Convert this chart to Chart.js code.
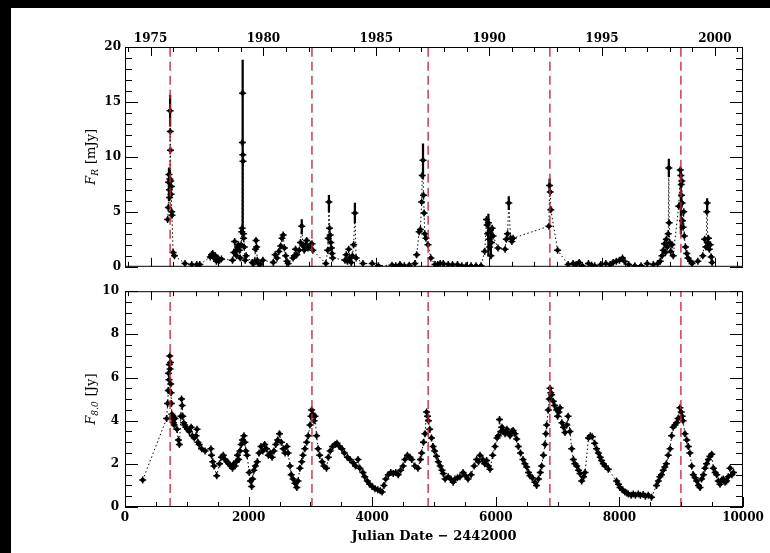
<!DOCTYPE html>
<html>
<head>
<meta charset="utf-8">
<script src="https://cdn.jsdelivr.net/npm/chart.js@4.4.1/dist/chart.umd.min.js"></script>
<style>
  html, body { margin: 0; padding: 0; background: #000; width: 770px; height: 553px; overflow: hidden; }
  #sheet { position: absolute; left: 11px; top: 8px; width: 759px; height: 545px; background: #fff; }
  canvas { position: absolute; left: 11px; }
  #top-panel { top: 8px; }
  #bottom-panel { top: 278px; }
</style>
</head>
<body>
<div id="sheet"></div>
<canvas id="top-panel" width="759" height="270"></canvas>
<canvas id="bottom-panel" width="759" height="275"></canvas>
<script>
// Dates of the outbursts (JD - 2442000), marked with red dashed lines
const outburstJD = [730, 3025, 4905, 6875, 8995];

// Optical R-band flux [mJy], pairs of [JD - 2442000, flux]
const opticalFlux = [
  [690, 4.3], [701, 5.4], [705, 7.7], [712, 8.4], [718, 7.0], [722, 6.3], [726, 8.0], [730, 14.2], [733, 12.3],
  [736, 10.6], [740, 7.8], [745, 6.6], [750, 7.3], [755, 5.0], [760, 4.7], [778, 1.3], [800, 1.0],
  [970, 0.3], [1080, 0.2], [1160, 0.2], [1210, 0.2],
  [1380, 0.9], [1400, 1.1], [1420, 1.2], [1440, 0.8], [1460, 1.0], [1480, 0.5], [1500, 0.8], [1530, 0.6], [1560, 0.7],
  [1740, 0.6], [1760, 1.3], [1775, 2.3], [1790, 1.4], [1805, 1.0], [1820, 1.8], [1835, 2.0], [1850, 1.5], [1865, 0.8],
  [1880, 2.0], [1890, 3.2], [1896, 3.5], [1900, 11.3], [1904, 15.8], [1907, 10.2], [1910, 9.6], [1915, 3.0],
  [1920, 2.6], [1930, 1.8], [1945, 0.6], [1960, 1.0],
  [2060, 0.4], [2080, 0.3], [2100, 0.5], [2110, 1.6], [2120, 2.4], [2130, 1.8], [2140, 0.6], [2160, 0.3], [2190, 0.2], [2230, 0.6],
  [2400, 0.4], [2430, 1.1], [2460, 0.8], [2490, 1.4], [2520, 1.9], [2540, 2.6], [2560, 2.9], [2580, 1.7], [2600, 1.0],
  [2620, 0.5], [2640, 0.3],
  [2720, 0.8], [2740, 1.0], [2760, 1.6], [2780, 1.1], [2820, 1.5], [2840, 2.2], [2860, 3.7], [2880, 1.9], [2900, 1.5],
  [2920, 2.0], [2940, 2.4], [2960, 1.7], [2980, 1.8], [3000, 2.0], [3025, 2.1], [3040, 1.5],
  [3250, 0.3], [3280, 1.5], [3290, 2.6], [3300, 5.9], [3310, 3.5], [3320, 2.9], [3330, 2.2], [3340, 1.7], [3350, 1.2], [3360, 0.8],
  [3560, 0.6], [3580, 1.1], [3600, 0.5], [3620, 1.6], [3640, 0.8], [3660, 0.4], [3680, 1.0], [3700, 2.0], [3720, 4.9], [3740, 0.8],
  [3850, 0.3], [4000, 0.3], [4100, 0.1], [4320, 0.15], [4380, 0.1], [4450, 0.2], [4520, 0.1], [4600, 0.15], [4690, 0.3],
  [4720, 1.1], [4760, 3.2], [4780, 3.4], [4800, 5.9], [4810, 8.3], [4822, 9.7], [4830, 6.5], [4840, 4.9], [4850, 3.0],
  [4870, 2.6], [4903, 2.0], [4950, 0.8], [5016, 0.2],
  [5060, 0.2], [5100, 0.3], [5150, 0.3], [5230, 0.2], [5300, 0.2], [5380, 0.2], [5450, 0.1], [5520, 0.1], [5600, 0.1],
  [5680, 0.1], [5760, 0.1],
  [5820, 1.4], [5850, 4.3], [5860, 3.8], [5870, 3.0], [5880, 4.0], [5890, 2.5], [5900, 1.8], [5910, 3.3], [5920, 1.0],
  [5930, 2.2], [5940, 3.5], [5955, 2.8],
  [6035, 1.7], [6150, 1.6], [6170, 2.5], [6190, 3.0], [6210, 5.8], [6240, 2.6], [6260, 2.3], [6280, 2.6],
  [6860, 3.7], [6870, 7.4], [6880, 6.8], [6890, 5.2], [7000, 1.5], [7170, 0.2],
  [7250, 0.3], [7300, 0.2], [7350, 0.4], [7400, 0.1], [7500, 0.3], [7550, 0.15], [7600, 0.1], [7700, 0.2], [7780, 0.3],
  [7850, 0.2], [7900, 0.4], [7950, 0.5], [8000, 0.6], [8050, 0.8], [8080, 0.5], [8150, 0.2], [8250, 0.1], [8350, 0.1],
  [8450, 0.3], [8550, 0.2], [8620, 0.3],
  [8660, 0.5], [8690, 1.0], [8710, 1.5], [8730, 2.1], [8745, 1.3], [8760, 2.5], [8775, 1.8], [8790, 3.0], [8800, 9.0],
  [8805, 4.0], [8815, 2.2], [8830, 1.4], [8850, 2.0], [8870, 1.0],
  [8960, 5.5], [8985, 8.8], [8995, 8.3], [9000, 7.5], [9005, 6.5], [9010, 7.8], [9015, 5.8], [9020, 4.2], [9030, 3.6],
  [9040, 5.0], [9050, 2.8], [9070, 1.8], [9090, 1.2], [9110, 0.8], [9150, 0.5], [9175, 0.3], [9270, 0.5],
  [9350, 1.0], [9380, 2.5], [9400, 1.8], [9415, 5.0], [9420, 5.8], [9430, 2.2], [9440, 2.6], [9455, 1.6], [9470, 2.0],
  [9485, 0.9], [9500, 0.4]
];

// Large optical error bars: date, lower and upper end [mJy]
const opticalErrJD = [712, 726, 730, 1904, 2860, 3300, 3720, 4822, 5880, 5920, 6210, 6870, 8800, 8995, 9420];
const opticalErrLo = [6.0, 6.3, 12.8, 3.0, 3.0, 5.0, 4.0, 8.0, 1.0, 0.8, 5.2, 6.8, 8.2, 3.0, 5.0];
const opticalErrHi = [9.0, 8.8, 15.6, 18.8, 4.3, 6.5, 5.8, 11.2, 4.8, 3.5, 6.4, 8.0, 9.8, 9.0, 6.2];

// Radio 8.0 GHz flux [Jy], pairs of [JD - 2442000, flux]
const radioFlux = [
  [286, 1.25],
  [674, 4.1], [690, 4.8], [700, 5.4], [705, 6.2], [712, 5.9], [718, 6.6], [725, 7.0], [730, 6.4], [735, 6.7], [740, 5.7],
  [745, 5.3], [750, 4.8], [758, 4.3], [765, 4.1], [775, 4.2], [785, 3.9], [795, 3.8], [810, 4.1], [840, 3.6], [865, 3.1],
  [880, 2.9], [905, 4.2], [915, 5.0], [925, 4.7], [935, 4.2], [950, 3.9], [965, 3.8], [985, 3.7], [1010, 3.6], [1040, 3.5],
  [1070, 3.7], [1090, 3.3], [1120, 3.2], [1150, 3.3], [1165, 3.6], [1180, 3.0], [1200, 2.9], [1240, 2.7], [1295, 2.6],
  [1390, 2.7], [1400, 2.4], [1420, 2.1], [1440, 1.9], [1484, 1.45], [1530, 2.0], [1560, 2.3], [1590, 2.4], [1620, 2.2],
  [1650, 2.1], [1680, 2.0], [1710, 1.9], [1740, 1.8], [1760, 2.0], [1780, 1.9], [1800, 2.1], [1820, 2.4], [1840, 2.2],
  [1860, 2.6], [1880, 2.9], [1900, 3.1], [1925, 3.3], [1940, 3.0], [1955, 2.6], [1975, 2.4], [2010, 1.6], [2030, 1.2],
  [2050, 0.95], [2065, 1.3], [2085, 1.7], [2110, 1.9], [2140, 2.1], [2170, 2.5], [2200, 2.8], [2230, 2.6], [2260, 2.9],
  [2290, 2.7], [2320, 2.4], [2350, 2.5], [2380, 2.3], [2410, 2.6], [2440, 2.9], [2470, 3.1], [2500, 3.4], [2530, 3.0],
  [2560, 2.7], [2590, 2.5], [2620, 2.8], [2640, 2.5], [2670, 1.9], [2690, 1.5], [2720, 1.3], [2750, 1.1], [2780, 0.9],
  [2800, 1.2], [2830, 1.8], [2860, 2.1], [2880, 2.4], [2910, 2.7], [2940, 3.0], [2965, 3.3], [2994, 3.8], [3010, 4.2],
  [3020, 4.5], [3040, 4.3], [3060, 4.0], [3075, 4.2], [3100, 3.3], [3125, 2.7], [3150, 2.4], [3190, 2.1], [3220, 1.9],
  [3260, 1.8], [3290, 2.3], [3320, 2.6], [3360, 2.8], [3400, 2.9], [3430, 2.95], [3470, 2.8], [3510, 2.7], [3550, 2.5],
  [3600, 2.3], [3640, 2.2], [3690, 2.05], [3730, 1.9], [3770, 2.2], [3800, 1.8], [3850, 1.6], [3880, 1.4], [3920, 1.2],
  [3960, 1.05], [4000, 0.95], [4045, 0.85], [4090, 0.8], [4130, 0.75], [4160, 0.7], [4190, 1.0], [4220, 1.3], [4260, 1.5],
  [4300, 1.6], [4340, 1.55], [4380, 1.6], [4420, 1.5], [4460, 1.7], [4500, 1.9], [4530, 2.2], [4570, 2.4], [4610, 2.3],
  [4640, 2.2], [4690, 1.9], [4740, 1.8], [4780, 2.2], [4800, 2.5], [4830, 3.0], [4855, 3.4], [4880, 4.4], [4895, 4.2],
  [4910, 4.0], [4930, 3.6],
  [4960, 3.2], [4985, 2.8], [5010, 2.6], [5040, 2.35], [5070, 2.1], [5100, 1.9], [5130, 1.7], [5150, 1.55], [5180, 1.3],
  [5230, 1.4], [5270, 1.3], [5310, 1.15], [5340, 1.3], [5380, 1.35], [5420, 1.4], [5470, 1.6], [5510, 1.45], [5550, 1.3],
  [5600, 1.5], [5650, 1.9], [5690, 2.2], [5720, 2.1], [5745, 2.4], [5790, 2.2], [5820, 2.0], [5852, 2.15], [5880, 1.9],
  [5906, 1.75], [5950, 2.4], [5987, 2.8], [6020, 3.2], [6040, 3.3], [6060, 4.05], [6080, 3.5], [6100, 3.7], [6122, 3.5],
  [6150, 3.4], [6180, 3.6], [6200, 3.45], [6230, 3.3], [6260, 3.5], [6280, 3.55], [6310, 3.4], [6338, 3.15], [6365, 2.8],
  [6400, 2.5], [6440, 2.2], [6470, 2.0], [6500, 1.85], [6530, 1.6], [6553, 1.45], [6590, 1.35], [6634, 1.15], [6660, 1.0],
  [6690, 1.3], [6720, 1.6], [6742, 1.9], [6770, 2.4], [6796, 2.9], [6810, 3.4], [6823, 3.8], [6850, 4.5], [6865, 5.0],
  [6877, 5.5], [6890, 5.3], [6904, 5.2], [6930, 4.9], [6950, 4.7], [6985, 4.5], [7000, 4.2], [7020, 4.4], [7040, 4.6],
  [7070, 3.9], [7095, 3.7], [7120, 3.45], [7150, 3.8], [7170, 4.2], [7200, 3.5], [7228, 2.7], [7255, 2.2], [7280, 2.0],
  [7310, 1.9], [7340, 1.7], [7363, 1.55], [7390, 1.2], [7420, 1.4], [7444, 1.6],
  [7500, 3.2], [7530, 3.3], [7560, 3.25], [7600, 2.95], [7630, 2.7], [7660, 2.5], [7690, 2.3], [7710, 2.15], [7740, 2.0],
  [7770, 1.9], [7820, 1.75],
  [7955, 1.2], [7985, 1.05], [8010, 0.9], [8050, 0.8], [8090, 0.7], [8120, 0.65], [8145, 0.6], [8190, 0.55], [8225, 0.6],
  [8260, 0.55], [8305, 0.6], [8340, 0.55], [8385, 0.58], [8420, 0.5], [8467, 0.55], [8520, 0.45],
  [8600, 1.0], [8630, 1.2], [8655, 1.4], [8680, 1.5], [8710, 1.7], [8735, 1.85], [8760, 2.0], [8790, 2.4], [8820, 2.7],
  [8845, 3.3], [8870, 3.7], [8900, 3.8], [8925, 3.9], [8950, 4.1], [8980, 4.6], [9000, 4.4], [9015, 4.2], [9030, 4.0],
  [9060, 3.4], [9090, 3.1], [9115, 2.8], [9140, 2.5], [9170, 1.9], [9196, 1.5], [9225, 1.35], [9250, 1.2], [9280, 1.0],
  [9305, 0.9], [9330, 1.3], [9360, 1.5], [9385, 1.8], [9410, 2.0], [9440, 2.2], [9465, 2.35], [9493, 2.45], [9520, 1.8],
  [9550, 1.6], [9575, 1.5], [9600, 1.2], [9628, 1.05], [9655, 1.25], [9680, 1.3], [9710, 1.15], [9735, 1.2], [9760, 1.4],
  [9790, 1.8], [9820, 1.5], [9845, 1.6]
];

// Axis ranges: JD offset on the bottom, calendar years on top
const jdMin = 0;
const jdMax = 10000;
const jdOf1975 = 413.5;
const daysPerYear = 365.25;
const yearMin = 1975 + (jdMin - jdOf1975) / daysPerYear;
const yearMax = 1975 + (jdMax - jdOf1975) / daysPerYear;

const FONT = '"DejaVu Serif", "Liberation Serif", serif';
const RED = "rgba(196, 40, 52, 0.9)";

const isMultiple = (v, step) => Math.abs(v / step - Math.round(v / step)) < 1e-6;

// Values from min to max of a scale, every `step`
const stepsOf = (scale, step) => {
  const out = [];
  for (let k = Math.ceil(scale.min / step - 1e-9); k * step <= scale.max + 1e-9; k++) out.push(k * step);
  return out;
};

// Inward tick marks on all four sides plus the frame
const ticksPlugin = (cfg) => ({
  id: "inwardTicks",
  afterDraw(chart) {
    const ctx = chart.ctx;
    const a = chart.chartArea;
    const sy = chart.scales.y;
    const sx = chart.scales.x;
    const sYear = chart.scales.xYear;
    const segs = [];

    stepsOf(sy, cfg.yMinor).forEach((v) => {
      const py = Math.round(sy.getPixelForValue(v)) + 0.5;
      const len = isMultiple(v, cfg.yMajor) ? 13 : 7;
      segs.push([a.left, py, a.left + len, py], [a.right, py, a.right - len, py]);
    });

    stepsOf(sYear, 1).forEach((v) => {
      const px = Math.round(sYear.getPixelForValue(v)) + 0.5;
      const len = isMultiple(v, 5) ? 9 : 5;
      segs.push([px, a.top, px, a.top + len]);
      if (!cfg.showJDLabels) segs.push([px, a.bottom, px, a.bottom - len]);
    });

    if (cfg.showJDLabels) {
      stepsOf(sx, 500).forEach((v) => {
        const px = Math.round(sx.getPixelForValue(v)) + 0.5;
        const len = isMultiple(v, 2000) ? 10 : 5;
        segs.push([px, a.bottom, px, a.bottom - len]);
      });
    }

    ctx.save();
    ctx.strokeStyle = "#000";
    ctx.lineWidth = 1;
    segs.forEach(([x1, y1, x2, y2]) => { ctx.beginPath(); ctx.moveTo(x1, y1); ctx.lineTo(x2, y2); ctx.stroke(); });
    ctx.strokeRect(a.left + 0.5, a.top + 0.5, a.right - a.left - 1, a.bottom - a.top - 1);
    ctx.restore();
  },
});

// Rotated y title with italic F and a subscript
const yTitlePlugin = (cfg) => ({
  id: "yTitle",
  afterDraw(chart) {
    const ctx = chart.ctx;
    const a = chart.chartArea;
    const fMain = "italic 13px " + FONT;
    const fSub = "italic 9px " + FONT;
    const fUnit = "13px " + FONT;
    ctx.save();
    ctx.translate(79, (a.top + a.bottom) / 2);
    ctx.rotate(-Math.PI / 2);
    ctx.fillStyle = "#000";
    ctx.textBaseline = "alphabetic";
    ctx.textAlign = "left";
    ctx.font = fMain; const w1 = ctx.measureText(cfg.titleMain).width;
    ctx.font = fSub; const w2 = ctx.measureText(cfg.titleSub).width;
    ctx.font = fUnit; const w3 = ctx.measureText(cfg.titleUnit).width;
    let x0 = -(w1 + w2 + w3 + 1) / 2;
    ctx.font = fMain; ctx.fillText(cfg.titleMain, x0, 5); x0 += w1;
    ctx.font = fSub; ctx.fillText(cfg.titleSub, x0, 8); x0 += w2 + 1;
    ctx.font = fUnit; ctx.fillText(cfg.titleUnit, x0, 5);
    ctx.restore();
  },
});

const makePanel = (canvasId, cfg) => {
  const points = cfg.points.map(([x, y]) => ({ x, y }));

  const redLines = [];
  outburstJD.forEach((jd) => {
    redLines.push({ x: jd, y: 0 }, { x: jd, y: cfg.yMax }, { x: jd, y: null });
  });

  const datasets = [
    { type: "line", data: redLines, borderColor: RED, borderWidth: 1.5, borderDash: [9, 5], pointRadius: 0, spanGaps: false, order: 0 },
    { type: "line", data: points, showLine: false, pointStyle: "cross", pointRadius: 3.5, pointBorderWidth: 1.5, pointBorderColor: "#000", order: 1 },
    { type: "line", data: points, borderColor: "#000", borderWidth: 1, borderDash: [1.5, 2.5], pointRadius: 2.3, pointBorderWidth: 0, pointBackgroundColor: "#000", order: 2 },
  ];

  if (cfg.errJD) {
    datasets.push({
      type: "bar",
      data: cfg.errJD.map((jd, i) => ({ x: jd, y: [cfg.errLo[i], cfg.errHi[i]] })),
      backgroundColor: "#000",
      barThickness: 1.6,
      order: 3,
    });
  }

  const tickFont = { family: FONT, size: 12, weight: "bold" };

  return new Chart(document.getElementById(canvasId), {
    type: "line",
    data: { datasets },
    options: {
      responsive: false,
      devicePixelRatio: 1,
      animation: false,
      events: [],
      layout: { autoPadding: false, padding: { left: 0, right: 27, top: 0, bottom: 0 } },
      plugins: { legend: { display: false }, tooltip: { enabled: false } },
      scales: {
        x: {
          type: "linear",
          position: "bottom",
          min: jdMin,
          max: jdMax,
          offset: false,
          grid: { display: false, drawTicks: false, offset: false },
          border: { display: false },
          ticks: {
            display: cfg.showJDLabels,
            stepSize: 500,
            autoSkip: false,
            maxRotation: 0,
            padding: 4,
            color: "#000",
            font: tickFont,
            callback: (v) => (isMultiple(v, 2000) ? String(v) : ""),
          },
          title: {
            display: cfg.showJDLabels,
            text: "Julian Date \u2212 2442000",
            color: "#000",
            font: { family: FONT, size: 13, weight: "bold" },
            padding: { top: 0, bottom: 9 },
          },
          afterFit: (s) => { s.height = cfg.bottomH; },
        },
        xYear: {
          type: "linear",
          position: "top",
          min: yearMin,
          max: yearMax,
          grid: { display: false, drawTicks: false },
          border: { display: false },
          ticks: {
            display: cfg.showYearLabels,
            stepSize: 1,
            autoSkip: false,
            maxRotation: 0,
            padding: 1,
            color: "#000",
            font: tickFont,
            callback: (v) => (isMultiple(v, 5) ? String(Math.round(v)) : ""),
          },
          afterFit: (s) => { s.height = cfg.topH; },
        },
        y: {
          type: "linear",
          position: "left",
          min: 0,
          max: cfg.yMax,
          grid: { display: false, drawTicks: false },
          border: { display: false },
          ticks: {
            stepSize: cfg.yMinor,
            autoSkip: false,
            padding: cfg.yPad,
            color: "#000",
            font: tickFont,
            callback: (v) => (isMultiple(v, cfg.yMajor) ? String(v) : ""),
          },
          afterFit: (s) => { s.width = 114; },
        },
      },
    },
    plugins: [ticksPlugin(cfg), yTitlePlugin(cfg)],
  });
};

makePanel("top-panel", {
  points: opticalFlux,
  errJD: opticalErrJD,
  errLo: opticalErrLo,
  errHi: opticalErrHi,
  yMax: 20,
  yMinor: 1,
  yMajor: 5,
  yPad: 4,
  titleMain: "F",
  titleSub: "R",
  titleUnit: " [mJy]",
  showYearLabels: true,
  showJDLabels: false,
  topH: 39,
  bottomH: 11,
});

makePanel("bottom-panel", {
  points: radioFlux,
  yMax: 10,
  yMinor: 0.5,
  yMajor: 2,
  yPad: 6,
  titleMain: "F",
  titleSub: "8.0",
  titleUnit: " [Jy]",
  showYearLabels: false,
  showJDLabels: true,
  topH: 8,
  bottomH: 46,
});
</script>
</body>
</html>
